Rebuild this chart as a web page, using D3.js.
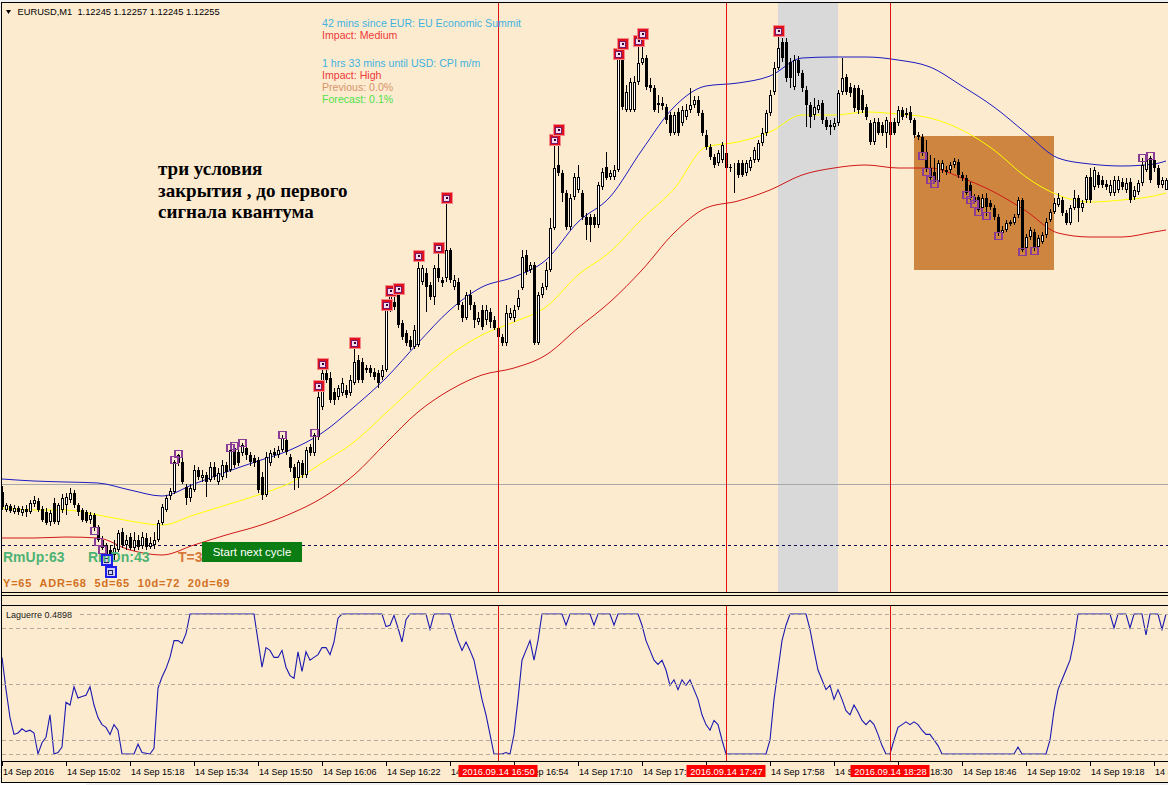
<!DOCTYPE html>
<html><head><meta charset="utf-8">
<script src="https://cdn.jsdelivr.net/npm/d3@7"></script>
<style>body{margin:0;background:#fff;} svg{display:block;}</style>
</head><body><svg id="c" width="1168" height="785"></svg>
<script>
// Prices are stored in points (0.00001) above BASE_PRICE
const BASE_PRICE = 1.11435, POINT = 0.00001;
const symbolLabel = "EURUSD,M1";
// One-minute candles, 14 Sep 2016 14:46 ... 19:37
const opens=[508,490,494,488,492,487,491,488,496,499,491,488,478,497,478,490,495,500,507,495,490,488,480,485,473,460,455,450,445,450,468,455,463,452,460,454,462,453,455,460,477,490,504,508,537,538,513,502,510,530,522,525,520,533,518,523,535,530,552,548,547,552,545,542,540,523,505,537,548,545,550,560,543,533,522,537,525,553,547,563,593,627,622,608,603,607,610,607,617,640,638,630,632,628,627,623,630,690,698,705,677,667,660,653,655,718,727,715,703,732,720,722,750,713,718,695,682,705,695,678,690,680,688,680,672,663,657,682,682,693,712,745,730,735,657,705,713,730,772,835,827,807,773,803,810,807,783,783,783,775,813,833,823,823,830,942,890,890,890,918,937,942,915,912,897,897,893,885,867,888,877,883,890,895,900,887,865,853,843,837,840,847,833,832,837,837,827,832,840,840,857,867,887,908,932,958,958,938,913,940,927,910,895,885,890,897,880,875,873,877,908,923,913,912,912,905,893,877,858,878,875,867,878,878,877,890,885,888,880,865,863,848,832,828,818,830,828,830,835,838,825,822,815,798,803,792,802,797,792,783,767,770,776,777,785,800,752,763,768,753,758,765,780,788,795,800,787,777,792,802,792,800,823,813,825,820,816,807,807,810,818,810,818,803,808,817,830,842,840,832,815,810];
const highs=[514,497,496,495,494,494,495,500,504,502,494,492,490,502,497,506,507,512,510,497,492,490,488,487,475,464,457,455,460,470,472,465,467,468,465,468,467,463,468,480,496,505,512,540,546,542,516,516,535,533,530,528,538,538,532,540,538,552,554,551,557,555,548,545,543,528,548,550,552,554,565,563,546,536,540,540,553,556,567,613,635,632,628,612,615,622,615,625,656,645,642,635,635,632,630,635,694,708,704,710,680,670,664,675,743,735,732,718,735,751,723,801,752,725,722,698,708,710,698,688,695,695,692,684,675,666,695,692,695,710,750,750,738,738,708,717,738,782,859,869,830,810,806,827,835,810,787,786,786,818,832,848,830,835,945,955,915,922,924,958,965,945,922,915,905,903,896,888,888,892,894,896,912,904,904,890,870,856,846,850,858,850,836,837,840,840,840,843,853,860,872,890,910,938,968,962,962,942,945,944,930,914,898,902,900,900,883,880,882,910,942,926,917,915,915,910,896,880,882,882,878,883,882,882,894,893,892,894,882,868,866,860,845,842,840,840,834,838,842,841,828,825,818,806,805,806,807,800,795,786,774,780,780,786,803,802,766,773,771,765,768,782,791,802,807,803,790,795,810,805,800,825,832,833,828,824,820,820,824,824,822,822,822,814,820,842,844,844,844,835,823,822];
const lows=[490,488,487,486,485,484,483,486,493,488,478,475,474,476,475,487,485,497,492,484,478,477,476,469,458,450,440,428,440,448,452,450,450,449,450,451,450,451,451,458,475,488,500,506,534,516,495,498,508,520,518,503,518,520,515,520,522,528,532,534,544,540,534,533,507,500,503,534,542,542,548,545,528,510,512,522,522,544,544,560,590,617,597,595,600,604,602,604,615,617,617,627,623,620,612,620,628,688,690,672,660,654,650,651,653,715,688,700,695,718,713,718,717,710,690,678,680,690,672,675,670,675,672,670,660,654,654,680,678,690,710,725,727,655,655,702,710,728,770,824,798,770,770,800,807,780,760,758,772,772,810,820,820,820,828,890,888,888,888,915,935,910,908,888,887,890,876,864,865,864,874,880,887,892,884,864,850,840,832,834,837,830,828,807,822,823,824,829,837,838,854,864,884,905,930,938,918,912,910,924,908,873,872,880,887,876,870,865,870,874,905,905,903,888,886,887,880,855,855,865,864,852,862,865,874,880,882,877,862,860,844,828,820,816,816,827,825,827,832,822,819,805,800,796,788,790,784,790,780,764,765,768,774,775,782,748,750,760,749,751,756,762,778,786,793,784,775,775,790,778,788,797,797,810,812,812,810,804,804,807,810,807,797,800,805,814,828,817,828,812,812,810];
const closes=[493,495,489,492,488,491,488,497,500,490,480,477,487,478,495,502,503,507,495,488,480,479,485,472,460,452,444,440,452,467,455,460,452,460,453,463,453,457,460,477,493,502,509,538,545,518,502,512,530,523,525,518,533,523,527,535,528,550,535,537,555,545,538,537,510,505,543,547,545,550,562,548,532,522,538,525,550,547,565,603,627,620,600,600,612,617,605,620,638,620,620,632,627,623,617,630,693,705,693,675,663,657,653,670,732,732,713,703,732,722,717,750,720,720,695,682,705,695,680,682,673,690,678,672,663,657,687,687,690,702,743,728,735,657,705,713,730,772,832,827,807,773,802,823,823,783,775,775,775,815,828,822,827,830,943,893,908,918,918,937,942,913,912,890,895,894,880,867,885,867,890,890,895,900,887,867,853,843,835,847,855,832,832,833,825,825,837,840,850,857,867,887,905,932,952,942,922,922,940,927,912,895,883,893,895,880,873,873,877,907,922,908,907,892,890,890,883,858,878,867,867,880,865,867,890,883,887,880,865,863,847,832,822,818,837,837,830,835,839,825,822,807,802,803,790,802,793,793,783,767,770,777,778,783,800,750,763,770,752,762,765,778,788,797,802,787,777,792,802,792,797,823,800,830,815,815,813,815,820,820,813,817,800,810,817,835,840,820,832,815,820,820];

// Moving averages (read at every 8th bar)
const maIdx=[0,8,16,24,32,40,48,56,64,72,80,88,96,104,112,120,128,136,144,152,160,168,176,184,192,200,208,216,224,232,240,248,256,264,272,280,288,291];
const maBlue=[521,519,518,517,510,504,516,528,539,550,567,593,622,657,690,713,723,740,778,803,850,893,914,917,924,942,943,943,940,933,914,893,867,842,836,834,836,839];
const maYellow=[492,490,490,485,479,475,485,495,505,517,537,558,587,617,645,665,678,693,725,748,781,811,853,858,868,885,885,888,886,882,870,850,823,805,798,800,804,807];
const maRed=[462,462,463,462,450,445,455,465,474,486,502,525,557,588,610,625,632,645,672,698,730,767,792,799,810,825,832,835,832,832,822,808,789,767,763,763,768,770];

// Laguerre oscillator vertices
const lagIdx=[0,1,2,3,4,5,6,7,8,9,10,11,12,13,14,15,16,17,18,19,20,21,22,23,24,25,26,27,28,29,30,33,34,35,37,38,39,40,41,42,43,44,45,46,47,63,64,65,66,67,68,69,70,71,72,73,74,75,76,77,78,79,80,81,82,83,84,85,95,96,97,98,99,100,101,102,106,107,108,112,113,114,115,116,117,118,119,120,121,122,123,125,126,127,128,129,130,131,132,133,134,135,140,141,142,147,148,149,152,153,154,159,160,161,162,163,164,165,166,167,168,169,170,171,172,173,174,175,176,177,178,179,180,181,191,192,193,194,195,196,197,201,202,203,204,205,206,207,208,209,210,211,212,213,214,215,216,217,218,219,220,221,222,223,224,225,226,227,228,229,230,231,232,233,234,235,253,254,255,261,262,263,264,265,266,267,268,269,277,278,279,281,282,283,285,286,287,289,290,291];
const lagVal=[.69,.46,.26,.14,.15,.18,.16,.17,.15,0,.08,.12,.28,0,.01,.05,.37,.35,.48,.40,.41,.42,.48,.35,.26,.21,.19,.14,.21,.17,0,0,.07,.01,0,.04,.47,.55,.61,.69,.81,.81,.79,.86,1,1,.81,.62,.76,.74,.69,.69,.74,.62,.56,.54,.73,.59,.73,.67,.69,.71,.76,.76,.71,.8,.97,1,1,.91,.92,.99,.9,.8,.96,1,1,.89,1,1,.9,.81,.74,.8,.74,.67,.53,.39,.28,.14,0,0,.01,0,.14,.39,.67,.74,.81,.67,.81,1,1,.92,1,1,.92,1,1,.92,1,1,.92,.81,.74,.67,.64,.67,.6,.49,.53,.46,.53,.49,.53,.46,.39,.28,.21,.17,.24,.21,.1,0,0,.1,.39,.6,.81,.92,1,1,.89,.74,.6,.53,.46,.49,.39,.46,.39,.31,.28,.35,.3,.24,.21,.24,.21,.14,.06,0,0,.1,.19,.21,.23,.21,.23,.21,.17,.14,.14,.1,.06,0,0,.05,0,0,.1,.31,.46,.53,.6,.67,.81,1,1,.9,1,1,.9,1,1,.85,1,1,.89,1];
const lagLevels=[1,0.9,0.5,0.1,0];
const lagLabel="Laguerre 0.4898";

// Time axis
const tickIdx=[0,16,32,48,64,80,96,112,128,144,160,176,192,208,224,240,256,272,288];
const tickLabels=["14 Sep 2016","14 Sep 15:02","14 Sep 15:18","14 Sep 15:34","14 Sep 15:50","14 Sep 16:06","14 Sep 16:22","14 Sep 16:38","14 Sep 16:54","14 Sep 17:10","14 Sep 17:26","14 Sep 17:42","14 Sep 17:58","14 Sep 18:14","14 Sep 18:30","14 Sep 18:46","14 Sep 19:02","14 Sep 19:18","14 Sep 19:34"];
const vlineIdx=[124,181,222];
const vlineLabels=["2016.09.14 16:50","2016.09.14 17:47","2016.09.14 18:28"];

// Signal markers (bar indices)
const redHighIdx=[79,80,88,96,97,99,104,109,111,138,139,154,155,159,160,194];
const purpleHighIdx=[43,44,57,58,60,70,78,285,287];
const purpleLowIdx=[23,24,25,230,231,232,233,241,242,243,244,246,249,255,258];
const blueLowIdx=[26,27];

// Chart objects
const bandIdx=[194,209];
const boxIdx=[228,263], boxPrice=[730,864];
const greyLinePrice=516, dashLinePrice=455;

const newsLines=[
 ["42 mins since EUR: EU Economic Summit","#3fb2de"],
 ["Impact: Medium","#ec3a3a"],
 ["1 hrs 33 mins until USD: CPI m/m","#3fb2de"],
 ["Impact: High","#ec3a3a"],
 ["Previous: 0.0%","#d4956a"],
 ["Forecast: 0.1%","#4fe04a"]];
const newsBase=[27,39,67,79,91,103];
const noteLines=["три условия","закрытия , до первого","сигнала квантума"];
const statsText="Y=65  ADR=68  5d=65  10d=72  20d=69";

const W=1168,H=785, BG="#fdebd0";
const svg=d3.select("#c");
const SANS="'Liberation Sans', Arial, sans-serif";
const xS=d3.scaleLinear().domain([0,291]).range([2,1166]);
const yS=d3.scaleLinear().domain([408,997]).range([592,3]);
const yL=d3.scaleLinear().domain([0,1]).range([754,614]);
const fmt=p=>(BASE_PRICE+p*POINT).toFixed(5);

svg.append("rect").attr("width",W).attr("height",H).attr("fill","#f0f0f0");
svg.append("rect").attr("x",2).attr("y",3).attr("width",W-2).attr("height",779).attr("fill",BG);
const defs=svg.append("defs");
defs.append("clipPath").attr("id","cm").append("rect").attr("x",2).attr("y",3).attr("width",W).attr("height",589);
defs.append("clipPath").attr("id","cl").append("rect").attr("x",2).attr("y",606).attr("width",W).attr("height",155);

const gm=svg.append("g").attr("clip-path","url(#cm)");
gm.append("rect").attr("x",xS(bandIdx[0])).attr("y",3).attr("width",xS(bandIdx[1])-xS(bandIdx[0])).attr("height",589).attr("fill","#d9d9d9");
gm.append("rect").attr("x",xS(boxIdx[0])).attr("y",yS(boxPrice[1])).attr("width",xS(boxIdx[1])-xS(boxIdx[0])).attr("height",yS(boxPrice[0])-yS(boxPrice[1])).attr("fill","#cd853f");
gm.append("line").attr("x1",2).attr("x2",W).attr("y1",Math.round(yS(greyLinePrice))+0.5).attr("y2",Math.round(yS(greyLinePrice))+0.5).attr("stroke","#a8a8a8");
gm.append("line").attr("x1",2).attr("x2",W).attr("y1",Math.round(yS(dashLinePrice))+0.5).attr("y2",Math.round(yS(dashLinePrice))+0.5).attr("stroke","#101050").attr("stroke-dasharray","3,3");
const maLine=d3.line().x((d,k)=>xS(maIdx[k])).y(d=>yS(d)).curve(d3.curveMonotoneX);
[[maBlue,"#1c1cc0"],[maYellow,"#ffff00"],[maRed,"#d01818"]].forEach(([a,c])=>{
  gm.append("path").attr("d",maLine(a)).attr("fill","none").attr("stroke",c).attr("stroke-width",1);
});
const data=d3.range(opens.length).map(i=>({i,o:opens[i],h:highs[i],l:lows[i],c:closes[i]}));
const gc=gm.append("g").attr("shape-rendering","crispEdges");
gc.selectAll("line.w").data(data).join("line").attr("class","w")
  .attr("x1",d=>xS(d.i)+0.5).attr("x2",d=>xS(d.i)+0.5).attr("y1",d=>yS(d.h)).attr("y2",d=>yS(d.l)).attr("stroke","#000");
gc.selectAll("rect.b").data(data).join("rect").attr("class","b")
  .each(function(d){
    const s=d3.select(this), x=xS(d.i);
    if(d.c>d.o){
      s.attr("x",x-0.5).attr("y",yS(d.c)+0.5).attr("width",2).attr("height",Math.max(yS(d.o)-yS(d.c)-1,0)).attr("fill","#fff").attr("stroke","#000");
    } else {
      s.attr("x",x-1).attr("y",yS(d.o)).attr("width",3).attr("height",Math.max(yS(d.c)-yS(d.o),1)).attr("fill","#000");
    }
  });
const gk=gm.append("g").attr("shape-rendering","crispEdges");
redHighIdx.forEach(i=>{
  const g=gk.append("g").attr("transform",`translate(${xS(i)+0.5},${Math.round(yS(highs[i]))-1})`);
  g.append("rect").attr("x",-6).attr("y",-6).attr("width",12).attr("height",12).attr("fill","#f58a8a");
  g.append("rect").attr("x",-5).attr("y",-5).attr("width",10).attr("height",10).attr("fill","#e0101c");
  g.append("rect").attr("x",-3).attr("y",-3).attr("width",6).attr("height",6).attr("fill","#f6dcec").attr("stroke","#7a1a6a");
  g.append("rect").attr("x",-1).attr("y",-1).attr("width",2).attr("height",2).attr("fill","#300030");
});
purpleHighIdx.map(i=>[i,highs[i]]).concat(purpleLowIdx.map(i=>[i,lows[i]])).forEach(([i,p])=>{
  gk.append("rect").attr("x",xS(i)-3).attr("y",Math.round(yS(p))-3.5).attr("width",7).attr("height",7)
    .attr("fill","none").attr("stroke","#8a3c96").attr("stroke-width",1.3);
});
blueLowIdx.forEach(i=>{
  const cx=xS(i)+0.5, cy=Math.round(yS(lows[i]));
  gk.append("rect").attr("x",cx-5).attr("y",cy-5).attr("width",10).attr("height",10).attr("fill","#cfd0f5").attr("stroke","#1e1ee8").attr("stroke-width",2);
  gk.append("rect").attr("x",cx-2).attr("y",cy-2).attr("width",4).attr("height",4).attr("fill","none").attr("stroke","#202060");
});

// Laguerre panel
const gl=svg.append("g").attr("clip-path","url(#cl)");
const lagLine=d3.line().x((d,k)=>xS(lagIdx[k])).y(d=>yL(d));
gl.append("path").attr("d",lagLine(lagVal)).attr("fill","none").attr("stroke","#1a1ab0").attr("stroke-width",1.1);
gl.selectAll("line.lv").data(lagLevels).join("line").attr("class","lv")
  .attr("x1",80).attr("x2",W).attr("y1",d=>Math.round(yL(d))+0.5).attr("y2",d=>Math.round(yL(d))+0.5)
  .attr("stroke","#b4aa9c").attr("stroke-dasharray","4,3");
gl.selectAll("line.lv0").data(lagLevels.slice(1)).join("line").attr("class","lv0")
  .attr("x1",2).attr("x2",80).attr("y1",d=>Math.round(yL(d))+0.5).attr("y2",d=>Math.round(yL(d))+0.5)
  .attr("stroke","#b4aa9c").attr("stroke-dasharray","4,3");
svg.append("text").attr("x",6).attr("y",618).attr("font-family",SANS).attr("font-size",9).attr("fill","#202020").text(lagLabel);

vlineIdx.forEach(i=>{
  svg.append("line").attr("x1",xS(i)+0.5).attr("x2",xS(i)+0.5).attr("y1",3).attr("y2",761).attr("stroke","#e01010").attr("stroke-width",1);
});

const hl=(y,x1,x2,c)=>svg.append("line").attr("x1",x1).attr("x2",x2).attr("y1",y).attr("y2",y).attr("stroke",c||"#000");
svg.append("rect").attr("x",2).attr("y",593).attr("width",W).attr("height",12).attr("fill",BG);
hl(2.5,1,W); hl(592.5,1,W); hl(595.5,1,W); hl(605.5,1,W); hl(761.5,1,W); hl(782.5,1,W);
svg.append("line").attr("x1",1.5).attr("x2",1.5).attr("y1",2).attr("y2",783).attr("stroke","#000");
svg.append("rect").attr("x",0).attr("y",783).attr("width",86).attr("height",2).attr("fill","#fff");

tickIdx.forEach((t,k)=>{
  const x=xS(t)+0.5;
  svg.append("line").attr("x1",x).attr("x2",x).attr("y1",762).attr("y2",766).attr("stroke","#000");
  svg.append("text").attr("x",x+0.5).attr("y",775).attr("font-family",SANS).attr("font-size",9).attr("fill","#000").text(tickLabels[k]);
});
vlineIdx.forEach((i,k)=>{
  const x=xS(i)+0.5;
  svg.append("rect").attr("x",x-40).attr("y",765).attr("width",79).attr("height",12).attr("fill","#ff0000");
  svg.append("text").attr("x",x).attr("y",775).attr("text-anchor","middle").attr("font-family",SANS).attr("font-size",9.3).attr("fill","#fff").text(vlineLabels[k]);
});

svg.append("path").attr("d","M6,10 L11,10 L8.5,14 Z").attr("fill","#000");
const last=opens.length-1;
svg.append("text").attr("x",17.5).attr("y",15).attr("font-family",SANS).attr("font-size",9.3).attr("fill","#000")
  .attr("xml:space","preserve").style("white-space","pre")
  .text(`${symbolLabel}  ${fmt(opens[last])} ${fmt(highs[last])} ${fmt(lows[last])} ${fmt(closes[last])}`);

newsLines.forEach(([t,c],k)=>{
  svg.append("text").attr("x",322).attr("y",newsBase[k]).attr("font-family",SANS).attr("font-size",10.6).attr("fill",c).text(t);
});
noteLines.forEach((t,k)=>{
  svg.append("text").attr("x",158).attr("y",[175,196.5,218][k]).attr("font-family","'Liberation Serif','Times New Roman',serif")
    .attr("font-weight","bold").attr("font-size",19).attr("fill","#000").text(t);
});
const tb=svg.append("g").attr("font-family",SANS).attr("font-weight","bold").attr("font-size",14);
tb.append("text").attr("x",3).attr("y",562).attr("fill","#4db374").text("RmUp:63");
tb.append("text").attr("x",88).attr("y",562).attr("fill","#4db374").text("RmDn:43");
tb.append("text").attr("x",178).attr("y",562).attr("fill","#d7783a").text("T=3");
blueLowIdx.forEach(i=>{
  const cx=xS(i)+0.5, cy=Math.round(yS(lows[i]));
  svg.append("rect").attr("x",cx-5).attr("y",cy-5).attr("width",10).attr("height",10).attr("fill","none").attr("stroke","#1e1ee8").attr("stroke-width",2).attr("shape-rendering","crispEdges");
});
svg.append("rect").attr("x",202).attr("y",542).attr("width",100).attr("height",20).attr("fill","#0b7d12");
svg.append("text").attr("x",252).attr("y",556).attr("text-anchor","middle").attr("font-family",SANS).attr("font-size",11.5).attr("fill","#fff").text("Start next cycle");
svg.append("text").attr("x",3).attr("y",587).attr("font-family",SANS).attr("font-weight","bold").attr("font-size",11).attr("letter-spacing",0.8).attr("fill","#d2701e")
  .attr("xml:space","preserve").style("white-space","pre").text(statsText);
</script></body></html>
